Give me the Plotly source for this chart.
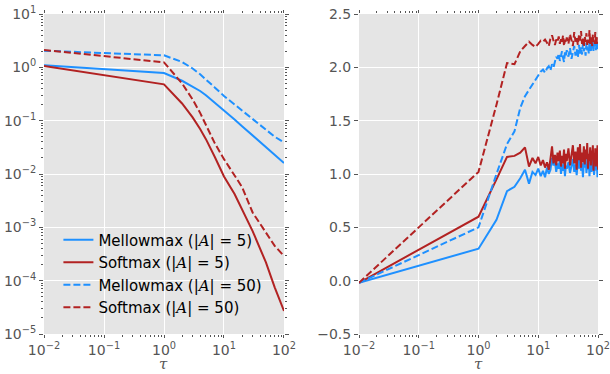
import plotly.graph_objects as go

# ---------------- data: left panel (log-log) ----------------
tau_left = [0.01, 1, 2, 3, 4, 5, 7, 10, 15, 20, 30, 50, 70, 100]
mellow5_left = [1.09, 0.78, 0.56, 0.44, 0.36, 0.30, 0.22, 0.157, 0.105, 0.079, 0.053, 0.032, 0.023, 0.016]
soft5_left = [1.06, 0.48, 0.21, 0.115, 0.07, 0.045, 0.021, 0.009, 0.0042, 0.0022, 0.00085, 0.00022, 0.000075, 0.000027]
mellow50_left = [2.05, 1.68, 1.26, 0.95, 0.74, 0.60, 0.42, 0.29, 0.20, 0.155, 0.105, 0.066, 0.050, 0.039]
soft50_left = [2.12, 1.24, 0.50, 0.25, 0.14, 0.085, 0.038, 0.019, 0.0095, 0.0057, 0.0019, 0.00078, 0.00045, 0.00029]

# ---------------- data: right panel (semilog-x) ----------------
tau_right = [0.01,
             1, 2, 3, 4, 5, 6, 7, 8, 9, 10,
             11, 12, 13, 14, 15, 16, 17, 18, 19, 20,
             21, 22, 23, 24, 25, 26, 27, 28, 29, 30,
             32, 34, 36, 38, 40, 42, 44, 46, 48, 50,
             52, 54, 56, 58, 60, 62, 64, 66, 68, 70,
             72, 74, 76, 78, 80, 82, 84, 86, 88, 90,
             92, 94, 96, 98, 100]
mellow5_right = [-0.02,
                 0.30, 0.57, 0.84, 0.88, 0.96, 1.04, 0.91, 1.02, 0.99, 1.05,
                 0.98, 1.03, 0.97, 1.06, 1.00, 1.04, 1.15, 1.08, 1.12, 1.02,
                 1.10, 1.05, 1.14, 1.00, 1.09, 1.03, 1.12, 0.98, 1.08, 1.05,
                 1.11, 1.01, 1.07, 1.14, 1.02, 1.09, 0.99, 1.13, 1.05, 1.16,
                 1.03, 1.10, 0.97, 1.12, 1.06, 1.15, 1.01, 1.09, 1.04, 1.13,
                 0.98, 1.11, 1.07, 1.02, 1.14, 1.05, 1.10, 0.99, 1.12, 1.06,
                 1.16, 1.03, 1.09, 0.97, 1.05]
soft5_right = [-0.02,
               0.60, 0.95, 1.16, 1.17, 1.20, 1.25, 1.07, 1.15, 1.10, 1.16,
               1.08, 1.13, 1.06, 1.11, 1.04, 1.14, 1.26, 1.10, 1.18, 1.08,
               1.20, 1.12, 1.22, 1.07, 1.17, 1.10, 1.23, 1.05, 1.19, 1.12,
               1.24, 1.08, 1.18, 1.27, 1.10, 1.21, 1.04, 1.25, 1.13, 1.28,
               1.06, 1.20, 1.11, 1.26, 1.09, 1.23, 1.14, 1.29, 1.05, 1.19,
               1.12, 1.25, 1.08, 1.22, 1.16, 1.27, 1.03, 1.18, 1.10, 1.24,
               1.07, 1.21, 1.13, 1.27, 1.04]
mellow50_right = [-0.02,
                  0.50, 1.00, 1.28, 1.40, 1.62, 1.73, 1.79, 1.83, 1.88, 1.93,
                  1.96, 1.98, 1.95, 1.99, 2.01, 1.97, 2.03, 2.00, 2.07, 2.10,
                  2.08, 2.13, 2.06, 2.12, 2.15, 2.09, 2.05, 2.14, 2.11, 2.16,
                  2.10, 2.18, 2.08, 2.14, 2.20, 2.11, 2.17, 2.09, 2.21, 2.13,
                  2.19, 2.12, 2.22, 2.15, 2.18, 2.11, 2.23, 2.16, 2.20, 2.13,
                  2.24, 2.17, 2.14, 2.21, 2.18, 2.25, 2.15, 2.22, 2.19, 2.24,
                  2.16, 2.21, 2.18, 2.23, 2.17]
soft50_right = [-0.02,
                1.02, 1.65, 2.04, 2.03, 2.15, 2.20, 2.24, 2.21, 2.19, 2.22,
                2.25, 2.24, 2.26, 2.23, 2.20, 2.27, 2.30, 2.25, 2.21, 2.26,
                2.24, 2.29, 2.22, 2.27, 2.24, 2.30, 2.20, 2.26, 2.23, 2.28,
                2.22, 2.31, 2.25, 2.20, 2.33, 2.24, 2.28, 2.21, 2.30, 2.25,
                2.34, 2.22, 2.27, 2.19, 2.29, 2.24, 2.32, 2.21, 2.26, 2.23,
                2.35, 2.22, 2.28, 2.25, 2.20, 2.31, 2.24, 2.27, 2.22, 2.33,
                2.25, 2.21, 2.28, 2.24, 2.22]

# tick labels
x_tickvals = [0.01, 0.1, 1, 10, 100]
x_ticktext = ["10<sup>−2</sup>", "10<sup>−1</sup>", "10<sup>0</sup>", "10<sup>1</sup>", "10<sup>2</sup>"]
yl_tickvals = [1e-5, 1e-4, 1e-3, 1e-2, 1e-1, 1, 10]
yl_ticktext = ["10<sup>−5</sup>", "10<sup>−4</sup>", "10<sup>−3</sup>", "10<sup>−2</sup>",
               "10<sup>−1</sup>", "10<sup>0</sup>", "10<sup>1</sup>"]
x_title = "<i>τ</i>"

A = "|<span style=\"font-family:'DejaVu Serif'\"><i>A</i></span>|"
names = [f"Mellowmax ({A} = 5)", f"Softmax ({A} = 5)",
         f"Mellowmax ({A} = 50)", f"Softmax ({A} = 50)"]

BLUE = "#1E90FF"
RED = "#B22222"
DASH = "7px,3px"
LW = 2

styles = [(BLUE, "solid"), (RED, "solid"), (BLUE, DASH), (RED, DASH)]
left_series = [mellow5_left, soft5_left, mellow50_left, soft50_left]
right_series = [mellow5_right, soft5_right, mellow50_right, soft50_right]

fig = go.Figure()
for name, ys, (c, d) in zip(names, left_series, styles):
    fig.add_trace(go.Scatter(x=tau_left, y=ys, mode="lines", name=name,
                             line=dict(color=c, width=LW, dash=d),
                             xaxis="x", yaxis="y", showlegend=True))
for name, ys, (c, d) in zip(names, right_series, styles):
    fig.add_trace(go.Scatter(x=tau_right, y=ys, mode="lines", name=name,
                             line=dict(color=c, width=LW, dash=d),
                             xaxis="x2", yaxis="y2", showlegend=False))

TXT = "#555555"
tickfont = dict(family="DejaVu Sans", size=14, color=TXT)
minor_log = dict(ticks="outside", ticklen=2, tickcolor=TXT, showgrid=False, dtick="D1")

common = dict(showgrid=True, gridcolor="white", gridwidth=1, zeroline=False,
              showline=False, ticks="outside", tickcolor=TXT,
              tickfont=tickfont, mirror="ticks", automargin=False,
              ticklabeloverflow="allow")

LEFT_DOM = [0, 0.4332]
RIGHT_DOM = [0.5686, 1]

fig.update_layout(
    width=610, height=374,
    margin=dict(l=44, r=12, t=14, b=40, autoexpand=False),
    paper_bgcolor="white",
    plot_bgcolor="#E5E5E5",
    font=dict(family="DejaVu Sans", color=TXT),
    xaxis=dict(domain=LEFT_DOM, type="log", range=[-2, 2], ticklen=3,
               tickvals=x_tickvals, ticktext=x_ticktext, minor=minor_log,
               anchor="y", **common),
    yaxis=dict(domain=[0, 1], type="log", range=[-5, 1], ticklen=4,
               tickvals=yl_tickvals, ticktext=yl_ticktext,
               minor=minor_log, anchor="x", **common),
    xaxis2=dict(domain=RIGHT_DOM, type="log", range=[-2, 2], ticklen=3,
                tickvals=x_tickvals, ticktext=x_ticktext, minor=minor_log,
                anchor="y2", **common),
    yaxis2=dict(domain=[0, 1], range=[-0.5, 2.5], dtick=0.5, tickformat=".1f",
                ticklen=4, anchor="x2", **common),
    legend=dict(x=0.026, y=0.345, xanchor="left", yanchor="top",
                bgcolor="rgba(0,0,0,0)", borderwidth=0,
                font=dict(family="DejaVu Sans", size=15, color="black")),
)

for dom in (LEFT_DOM, RIGHT_DOM):
    fig.add_annotation(text=x_title, xref="paper", yref="paper",
                       x=(dom[0] + dom[1]) / 2, y=-0.124,
                       xanchor="center", yanchor="bottom", showarrow=False,
                       borderpad=0,
                       font=dict(family="DejaVu Serif", size=15, color=TXT))

fig.write_html("out.html")
